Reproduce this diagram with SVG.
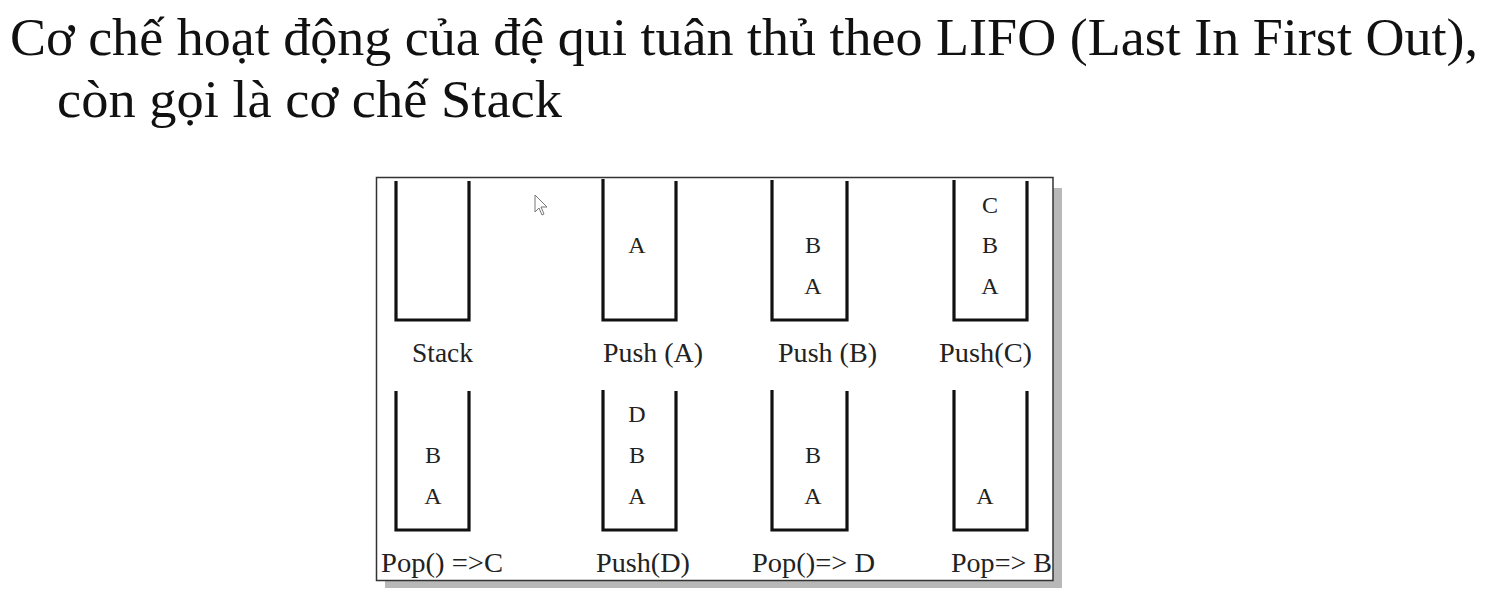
<svg xmlns="http://www.w3.org/2000/svg" width="1510" height="599" viewBox="0 0 1510 599">
<style>
.title{font-family:"Liberation Serif","Times New Roman",serif;font-size:52px;fill:#111}
.wall{fill:none;stroke:#111;stroke-width:3.2;stroke-linejoin:miter}
.item{font-family:"Liberation Serif","Times New Roman",serif;font-size:24px;fill:#222;text-anchor:middle}
.lbl{font-family:"Liberation Serif","Times New Roman",serif;font-size:27px;fill:#222}
</style>
<rect width="1510" height="599" fill="#fff"/>
<g id="title">
<text class="title" x="10" y="55" textLength="1468" lengthAdjust="spacingAndGlyphs">Cơ chế hoạt động của đệ qui tuân thủ theo LIFO (Last In First Out),</text>
<text class="title" x="57" y="117" textLength="505" lengthAdjust="spacingAndGlyphs">còn gọi là cơ chế Stack</text>
</g>
<g id="frame">
<rect x="1053" y="188" width="9" height="400" fill="#b8b8b8"/>
<rect x="385" y="580" width="677" height="8" fill="#b8b8b8"/>
<rect x="376.5" y="177.5" width="676.5" height="403" fill="#fff" stroke="#333" stroke-width="1.5"/>
</g>
<g id="cursor">
<path d="M535 195 L535 212 L539 208 L542 215 L544 214 L541 207 L547 207 Z" fill="#fff" stroke="#777" stroke-width="1"/>
</g>
<g id="s1">
<path class="wall" d="M396 181 V320 H469 V181"/>
<text class="lbl" x="412" y="362" textLength="61" lengthAdjust="spacingAndGlyphs">Stack</text>
</g>
<g id="s2">
<path class="wall" d="M603 179 V320 H676 V181"/>
<text class="item" x="637" y="253">A</text>
<text class="lbl" x="603" y="362" textLength="100" lengthAdjust="spacingAndGlyphs">Push (A)</text>
</g>
<g id="s3">
<path class="wall" d="M772 180 V320 H847 V181"/>
<text class="item" x="813" y="253">B</text>
<text class="item" x="813" y="294">A</text>
<text class="lbl" x="778" y="362" textLength="99" lengthAdjust="spacingAndGlyphs">Push (B)</text>
</g>
<g id="s4">
<path class="wall" d="M954 180 V320 H1027 V181"/>
<text class="item" x="990" y="213">C</text>
<text class="item" x="990" y="253">B</text>
<text class="item" x="990" y="294">A</text>
<text class="lbl" x="939" y="362" textLength="93" lengthAdjust="spacingAndGlyphs">Push(C)</text>
</g>
<g id="s5">
<path class="wall" d="M396 391 V530 H469 V391"/>
<text class="item" x="433" y="463">B</text>
<text class="item" x="433" y="504">A</text>
<text class="lbl" x="381" y="572" textLength="122" lengthAdjust="spacingAndGlyphs">Pop() =&gt;C</text>
</g>
<g id="s6">
<path class="wall" d="M603 390 V530 H676 V391"/>
<text class="item" x="637" y="422">D</text>
<text class="item" x="637" y="463">B</text>
<text class="item" x="637" y="504">A</text>
<text class="lbl" x="596" y="572" textLength="94" lengthAdjust="spacingAndGlyphs">Push(D)</text>
</g>
<g id="s7">
<path class="wall" d="M772 390 V530 H847 V391"/>
<text class="item" x="813" y="463">B</text>
<text class="item" x="813" y="504">A</text>
<text class="lbl" x="752" y="572" textLength="123" lengthAdjust="spacingAndGlyphs">Pop()=&gt; D</text>
</g>
<g id="s8">
<path class="wall" d="M954 390 V530 H1027 V391"/>
<text class="item" x="985" y="504">A</text>
<text class="lbl" x="951" y="572" textLength="101" lengthAdjust="spacingAndGlyphs">Pop=&gt; B</text>
</g>
<g id="connectors"/>
</svg>
